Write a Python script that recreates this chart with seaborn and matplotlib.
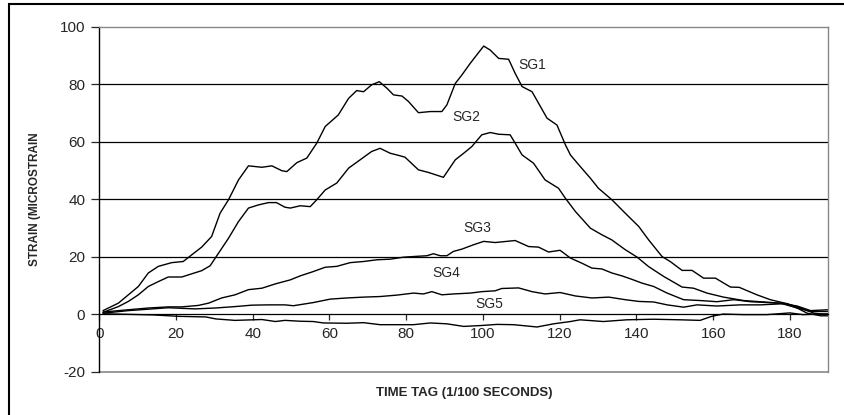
import pandas as pd
import matplotlib
matplotlib.use("Agg")
from matplotlib import pyplot as plt
from matplotlib.patches import Rectangle
import seaborn as sns

# time tag (1/100 s) and strain readings
sg1_t = [1, 5, 7.6, 10.2, 12.8, 15.4, 18.9, 21.9, 24.1, 26.7, 29.3, 31.5, 33.7, 36.3, 38.9,
         42.4, 45, 47.6, 48.9, 51.5, 54.1, 56.7, 58.9, 62.3, 65, 67.1, 68.9, 71, 73, 75,
         76.7, 78.9, 80.6, 83.2, 86.3, 89.3, 90.6, 92.8, 94.5, 96.7, 100.2, 101.9, 104.1,
         106.7, 108.4, 110.2, 112.8, 114.5, 116.7, 119.3, 121.5, 122.8, 125.4, 128, 130.1,
         133.6, 137.1, 140.6, 143.2, 146.7, 148.8, 151.9, 154.5, 157.5, 160.6, 164.5,
         166.8, 171.4, 174.9, 179.3, 181.9, 184.5, 188, 190]
sg1_v = [1.2, 3.8, 6.7, 9.6, 14.3, 16.6, 17.9, 18.3, 20.6, 23.3, 27, 35.1, 39.8, 46.7, 51.6,
         51.1, 51.6, 49.9, 49.6, 52.7, 54.3, 59.5, 65.3, 69.3, 75.1, 77.8, 77.4, 79.8, 80.9, 78.6,
         76.3, 75.9, 74, 70.1, 70.5, 70.5, 72.8, 80.3, 83.2, 87.3, 93.3, 91.9, 89,
         88.7, 83.8, 79.2, 77.4, 73.4, 68.2, 65.8, 58.9, 55.4, 51.3, 47.3, 43.8,
         39.8, 35.1, 30.5, 25.8, 20, 18.3, 15.2, 15.2, 12.5, 12.5, 9.4,
         9.3, 6.7, 5, 3.6, 2.1, 0.3, -0.6, -0.6]

sg2_t = [1, 5, 7.6, 10.2, 12.8, 15.4, 18, 21.5, 24.1, 26.7, 28.9, 31.1, 33.7, 36.3, 38.9,
         41.5, 44.1, 46.2, 48.4, 49.8, 52.4, 55, 56.7, 58.9, 61.9, 65, 68, 71, 73.2, 75.8,
         78.4, 79.7, 83.2, 85.8, 89.7, 92.8, 95, 97.1, 99.7, 101.9, 104.1, 107.1, 108.4,
         110.2, 113.2, 116.2, 119.7, 121.5, 124.1, 128, 131, 133.6, 137.1, 140.2, 143.2,
         147.1, 151.9, 154.9, 158.4, 162.7, 168, 172.2, 177.5, 181.9, 185.4, 190]
sg2_v = [0.6, 2.6, 4.4, 6.7, 9.6, 11.3, 12.9, 12.9, 14, 15.1, 16.8, 21.2, 26.4, 32.2, 36.9,
         38, 38.8, 38.8, 37.2, 36.9, 37.7, 37.4, 39.8, 43.2, 45.6, 50.8, 53.7, 56.6, 57.7, 56,
         55.1, 54.6, 50.2, 49.3, 47.6, 53.7, 56, 58.3, 62.4, 63.2, 62.6, 62.4, 59.5,
         55.4, 52.5, 46.7, 43.8, 40.3, 35.7, 29.9, 27.6, 25.8, 22.4, 19.8, 16.5,
         13.1, 9.4, 9, 7.3, 5.9, 4.7, 4.3, 3.8, 2.1, 0.9, 0.9]

sg3_t = [1, 7.6, 12.8, 18, 21.5, 25.8, 28.5, 31.9, 35.4, 38.9, 42.4, 45.9, 49.8, 52.4, 55.8,
         58.9, 61.9, 65.4, 68.9, 72.4, 75.8, 79.3, 82.8, 85.4, 87.1, 88.9, 90.6, 92.3, 94.5,
         97.5, 100.2, 103.2, 108.4, 111.9, 114.5, 117.1, 120.1, 122.8, 125.8, 128.4, 131,
         133.6, 136.2, 138.8, 141.4, 144.5, 148, 152.3, 156.7, 161, 165.4, 169.7, 174.1,
         179.3, 182.8, 186.3, 190]
sg3_v = [0.7, 1.5, 2.1, 2.5, 2.5, 3, 3.8, 5.6, 6.7, 8.5, 9, 10.5, 11.9, 13.3, 14.8,
         16.3, 16.6, 17.9, 18.3, 18.9, 19.1, 19.8, 20.1, 20.3, 21, 20.3, 20.3, 21.8, 22.6,
         24.1, 25.3, 24.9, 25.6, 23.5, 23.3, 21.6, 22.2, 19.5, 17.7, 16, 15.7,
         14.3, 13.3, 12.1, 10.8, 9.6, 7.3, 5, 4.7, 4.3, 5, 4.3, 4,
         3.6, 2.1, 0.3, -0.2]

sg4_t = [1, 7.6, 12.8, 18, 25, 30.2, 35.4, 39.8, 44.1, 48.4, 50.6, 55.8, 60.2, 64.5, 68.9,
         73.2, 77.6, 81.9, 84.5, 86.7, 89.3, 92.3, 96.7, 99.7, 103.2, 104.9, 109.3, 112.8,
         116.2, 120.1, 124.1, 128.4, 132.8, 137.1, 140.6, 144.5, 148, 152.3, 155.8, 161,
         167.1, 172.3, 178.4, 181.9, 185.4, 190]
sg4_v = [0.3, 1.2, 1.7, 2.2, 1.8, 2.1, 2.6, 3.1, 3.2, 3.2, 2.9, 4, 5.2, 5.6, 5.9,
         6.1, 6.6, 7.3, 7, 7.8, 6.7, 7, 7.3, 7.8, 8.1, 8.9, 9.1, 7.8,
         7, 7.5, 6.3, 5.6, 5.9, 5, 4.4, 4.2, 3.2, 2.4, 3.2, 2.8,
         3.2, 3.2, 3.6, 2.8, 1.2, 1.5]

sg5_t = [1, 7.6, 14, 20.9, 27.8, 30.4, 35.4, 42.4, 45.9, 48.4, 52.4, 55.8, 58.4, 64.5, 68.9,
         73.2, 81.9, 86.3, 90.6, 95, 99.4, 103.7, 108, 114.1, 118.4, 122.8, 125.3, 131.4,
         137.5, 144.4, 151.4, 156.6, 159.6, 162.6, 167.9, 174, 180, 183.4, 190]
sg5_v = [0.1, -0.1, -0.3, -0.8, -1, -1.7, -2.2, -1.9, -2.6, -2.2, -2.5, -2.6, -3.1, -3.2, -3,
         -3.7, -3.7, -3.1, -3.4, -4.3, -4, -3.6, -3.7, -4.5, -3.4, -2.6, -2, -2.6,
         -2, -1.8, -2, -2.2, -0.8, 0, -0.2, -0.2, 0.4, -0.2, 0.1]

labels = ["SG1", "SG2", "SG3", "SG4", "SG5"]
label_pos = [(112.8, 86.7), (95.8, 68.7), (98.6, 30), (90.4, 14.4), (101.6, 3.6)]

frames = []
for name, t, v in zip(labels, [sg1_t, sg2_t, sg3_t, sg4_t, sg5_t],
                      [sg1_v, sg2_v, sg3_v, sg4_v, sg5_v]):
    frames.append(pd.DataFrame({"time": t, "strain": v, "gauge": name}))
df = pd.concat(frames, ignore_index=True)

sns.set_style("white")
plt.rcParams["font.family"] = ["Liberation Sans", "DejaVu Sans"]
plt.rcParams["axes.unicode_minus"] = False

fig = plt.figure(figsize=(8.45, 4.15), dpi=100)
ax = fig.add_axes([0.1174, 0.1048, 0.8628, 0.8306])

sns.lineplot(data=df, x="time", y="strain", hue="gauge", units="gauge", estimator=None,
             sort=False, palette=["black"] * 5, legend=False, linewidth=1.0, ax=ax)

ax.set_xlim(0, 190)
ax.set_ylim(-20, 100)
ax.set_xticks(range(0, 181, 20))
ax.set_yticks(range(-20, 101, 20))

for y in [20, 40, 60, 80]:
    ax.axhline(y, color="black", linewidth=0.9, zorder=0)

ax.spines["bottom"].set_position(("data", 0))
ax.spines["bottom"].set_color("black")
ax.spines["bottom"].set_linewidth(0.9)
ax.spines["left"].set_color("black")
ax.spines["left"].set_linewidth(1.0)
for s in ["top", "right"]:
    ax.spines[s].set_color("#888888")
    ax.spines[s].set_linewidth(1.0)
ax.axhline(-20, color="#888888", linewidth=1.2, clip_on=False)

ax.tick_params(axis="x", direction="out", length=4, width=0.9, pad=5, labelsize=11, bottom=True)
ax.tick_params(axis="y", direction="out", length=6, width=0.9, pad=4, labelsize=11, left=True)

for name, (x, y) in zip(labels, label_pos):
    ax.text(x, y, name, fontsize=10, ha="center", va="center")

ax.set_xlabel("")
ax.set_ylabel("")
fig.text(0.549, 0.053, "TIME TAG (1/100 SECONDS)", fontsize=9.5, fontweight="bold",
         ha="center", va="center")
fig.text(0.0415, 0.52, "STRAIN (MICROSTRAIN", fontsize=8.5, fontweight="bold",
         rotation=90, ha="center", va="center")

# outer chart frame
fig.patches.append(Rectangle((9 / 845, -0.05), 1.1, 1.05 - 4.5 / 415,
                             transform=fig.transFigure, fill=False, edgecolor="black",
                             linewidth=1.5))

fig.savefig("out.png", dpi=100)
